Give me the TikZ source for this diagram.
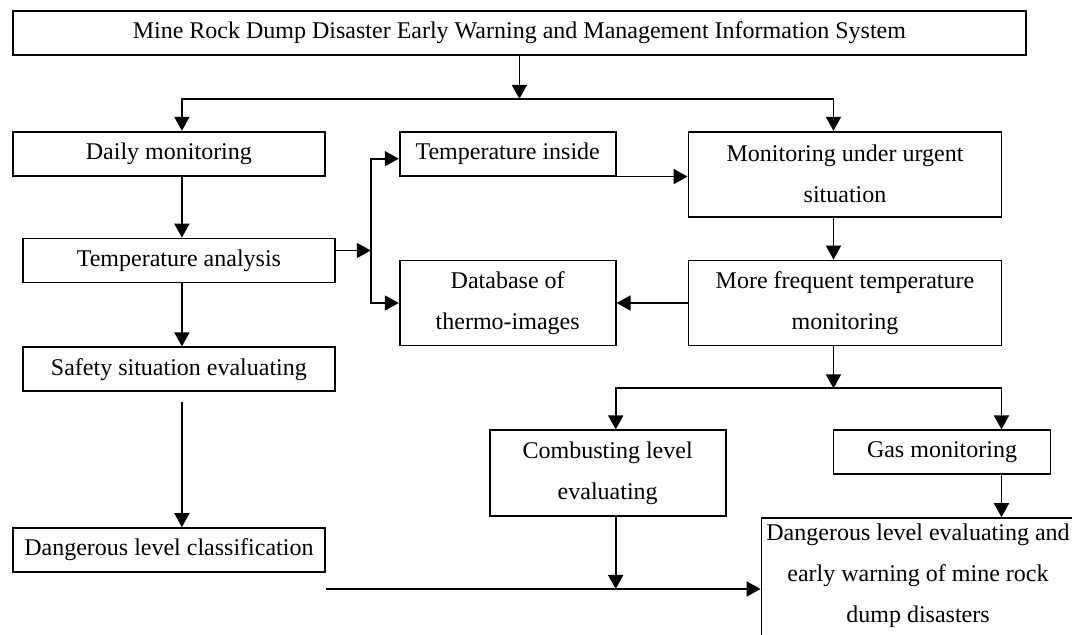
\documentclass[tikz,border=0pt]{standalone}
\usepackage{fontspec}
\setmainfont{Liberation Serif}
\usepackage{tikz}
\usetikzlibrary{positioning, arrows.meta}

\begin{document}
\begin{tikzpicture}[
  stage/.style={draw=black, line width=0.9pt, minimum width=156.5pt, minimum height=22pt,
                inner sep=2pt, align=center, font=\fontsize{12}{20.5}\selectfont},
  probe/.style={stage, minimum width=108pt},
  twoline/.style={minimum height=42.5pt},
  arr/.style={-{Triangle[length=7pt, width=7.5pt]}, line width=0.9pt},
]
  \useasboundingbox (0,0) rectangle (536pt,-317.5pt);

  % left column
  \node[stage, minimum width=506.5pt, anchor=north west] (title) at (6pt,-5pt)
    {Mine Rock Dump Disaster Early Warning and Management Information System};
  \node[stage, minimum width=156pt, below=37.5pt of title.south west, anchor=north west] (daily) {Daily monitoring};
  \node[stage, minimum width=156pt, below=30.5pt of daily.south west, anchor=north west, xshift=5pt] (tana) {Temperature analysis};
  \node[stage, minimum width=156pt, below=31.5pt of tana.south west, anchor=north west] (safety) {Safety situation evaluating};
  \node[stage, minimum width=156pt, below=67.5pt of safety.south west, anchor=north west, xshift=-5pt] (dclass) {Dangerous level classification};

  % middle and right
  \node[probe, right=36.5pt of daily.north east, anchor=north west] (tin) {Temperature inside};
  \node[stage, twoline, right=35.5pt of tin.north east, anchor=north west] (urgent) {Monitoring under urgent\\situation};
  \node[probe, twoline, below=41.5pt of tin.south west, anchor=north west] (dbase) {Database of\\thermo-images};
  \node[stage, twoline, below=21pt of urgent] (freq) {More frequent temperature\\monitoring};
  \node[stage, twoline, minimum width=118pt, minimum height=43pt, below=41.5pt of dbase.south west, anchor=north west, xshift=45pt] (comb) {Combusting level\\evaluating};
  \node[stage, minimum width=108.5pt, right=53pt of comb.north east, anchor=north west] (gas) {Gas monitoring};
  \node[stage, minimum height=70pt, text depth=14.5pt, below=21pt of gas.south west, anchor=north west, xshift=-36pt] (final)
    {Dangerous level evaluating and\\early warning of mine rock\\dump disasters};

  \coordinate (fork) at ([yshift=-21.5pt]title.south);
  \coordinate (jn) at ([xshift=17.5pt,yshift=5pt]tana.east);
  \coordinate (fork2) at ([xshift=-5.75pt,yshift=-21pt]freq.south);
  \coordinate (lstart) at ([yshift=-8pt]dclass.south east);
  \coordinate (cdrop) at ([xshift=4pt]comb.south);

  \draw[arr] (title) -- (fork);
  \draw[arr] (fork) -| ([xshift=6.5pt]daily.north);
  \draw[arr] (fork) -| ([xshift=-5.75pt]urgent.north);

  \draw[arr] ([xshift=6.5pt]daily.south) -- ([xshift=1.5pt]tana.north);
  \draw[arr] ([xshift=1.5pt]tana.south) -- ([xshift=1.5pt]safety.north);
  \draw[arr] ([xshift=1.5pt,yshift=-5pt]safety.south) -- ([xshift=6.5pt]dclass.north);

  \draw[arr] ([yshift=5pt]tana.east) -- (jn);
  \draw[arr] (jn) |- ([yshift=-2.5pt]tin.west);
  \draw[arr] (jn) |- (dbase.west);

  \draw[arr] (tin.south east) -- (tin.south east -| urgent.west);
  \draw[arr] ([xshift=-5.75pt]urgent.south) -- ([xshift=-5.75pt]freq.north);
  \draw[arr] (freq.west) -- (dbase.east);

  \draw[arr] ([xshift=-5.75pt]freq.south) -- (fork2);
  \draw[arr] (fork2) -| ([xshift=4pt]comb.north);
  \draw[arr] (fork2) -| ([xshift=29.75pt]gas.north);
  \draw[arr] ([xshift=29.75pt]gas.south) -- ([xshift=41.75pt]final.north);

  \draw[arr] (cdrop) -- (cdrop |- lstart);
  \draw[arr] (lstart) -- (lstart -| final.west);
\end{tikzpicture}
\end{document}
